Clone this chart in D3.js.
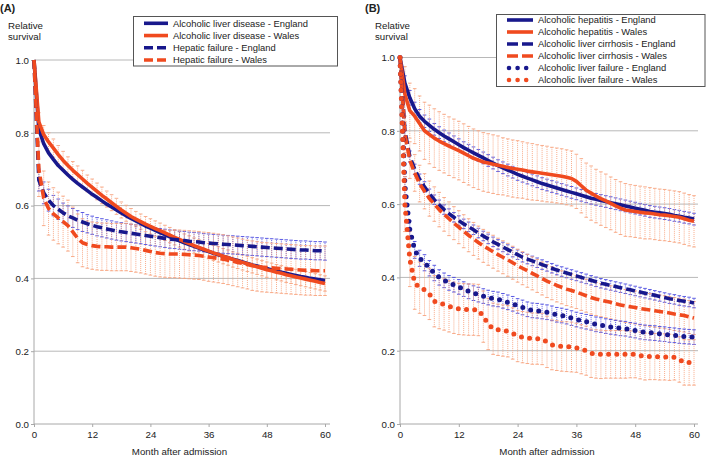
<!DOCTYPE html>
<html><head><meta charset="utf-8">
<script src="https://cdn.jsdelivr.net/npm/d3@7"></script>
<style>
body{margin:0;background:#fff}
svg{display:block}
text{font-family:"Liberation Sans",Arial,Helvetica,sans-serif;fill:#222}
</style>
</head><body>
<svg id="c" width="709" height="458"></svg>
<script>
// ---------- DATA ----------
const months = [0,1,2,3,4,5,6,7,8,9,10,11,12,13,14,15,16,17,18,19,20,21,22,23,24,25,26,27,28,29,30,31,32,33,34,35,36,37,38,39,40,41,42,43,44,45,46,47,48,49,50,51,52,53,54,55,56,57,58,59,60];
const xTickValues = [0,12,24,36,48,60];
const yTickValues = [0,0.2,0.4,0.6,0.8,1.0];
const xAxisTitle = "Month after admission";
const yAxisTitle = ["Relative","survival"];

// Panel A
const panelALabel = "(A)";
const panelANames = ["Alcoholic liver disease - England","Alcoholic liver disease - Wales","Hepatic failure - England","Hepatic failure - Wales"];
const aldEngland = [1.0,0.81,0.77,0.745,0.727,0.71,0.697,0.684,0.672,0.661,0.651,0.641,0.631,0.622,0.613,0.604,0.596,0.588,0.580,0.572,0.565,0.558,0.551,0.544,0.538,0.532,0.526,0.520,0.514,0.509,0.503,0.498,0.493,0.488,0.483,0.478,0.474,0.469,0.465,0.461,0.457,0.453,0.449,0.445,0.441,0.437,0.434,0.430,0.427,0.423,0.420,0.417,0.414,0.411,0.408,0.405,0.403,0.400,0.398,0.396,0.394];
const aldWales = [1.0,0.83,0.795,0.775,0.758,0.74,0.724,0.71,0.697,0.685,0.673,0.661,0.65,0.639,0.628,0.618,0.608,0.598,0.588,0.579,0.570,0.563,0.556,0.549,0.543,0.537,0.531,0.525,0.519,0.513,0.507,0.501,0.496,0.490,0.485,0.480,0.475,0.470,0.466,0.461,0.457,0.452,0.448,0.444,0.440,0.436,0.432,0.428,0.424,0.421,0.417,0.414,0.410,0.407,0.404,0.401,0.398,0.395,0.392,0.389,0.386];
const hfEngland = [1.0,0.67,0.635,0.615,0.60,0.59,0.58,0.572,0.566,0.56,0.555,0.55,0.546,0.542,0.539,0.536,0.533,0.530,0.528,0.526,0.524,0.522,0.520,0.518,0.516,0.514,0.512,0.510,0.508,0.507,0.505,0.504,0.502,0.501,0.500,0.498,0.497,0.496,0.495,0.494,0.493,0.492,0.491,0.490,0.489,0.488,0.487,0.486,0.485,0.484,0.483,0.482,0.481,0.480,0.479,0.478,0.478,0.477,0.476,0.476,0.475];
const hfWales = [1.0,0.70,0.62,0.592,0.577,0.566,0.556,0.545,0.528,0.51,0.498,0.493,0.49,0.488,0.487,0.487,0.486,0.486,0.486,0.486,0.484,0.482,0.480,0.477,0.474,0.471,0.469,0.468,0.467,0.467,0.467,0.466,0.465,0.464,0.463,0.461,0.459,0.457,0.455,0.453,0.450,0.447,0.444,0.441,0.438,0.435,0.433,0.431,0.430,0.429,0.428,0.427,0.426,0.425,0.424,0.423,0.422,0.422,0.421,0.421,0.421];
// half-widths of the 95% intervals drawn as error bars
const aldWalesCI = [0,0.025,0.025,0.025,0.025,0.025,0.025,0.024,0.024,0.024,0.024,0.023,0.023,0.023,0.023,0.022,0.022,0.022,0.022,0.022,0.022,0.021,0.021,0.021,0.021,0.021,0.021,0.021,0.021,0.021,0.021,0.021,0.021,0.021,0.021,0.021,0.021,0.021,0.021,0.021,0.021,0.021,0.021,0.021,0.021,0.021,0.021,0.021,0.021,0.021,0.021,0.021,0.021,0.021,0.021,0.021,0.021,0.021,0.021,0.021,0.021];
const hfEnglandCI = [0,0.03,0.03,0.03,0.028,0.028,0.027,0.027,0.026,0.026,0.026,0.025,0.025,0.025,0.025,0.025,0.025,0.025,0.025,0.025,0.025,0.025,0.025,0.025,0.025,0.025,0.025,0.025,0.025,0.025,0.025,0.025,0.025,0.025,0.025,0.025,0.025,0.025,0.025,0.025,0.025,0.025,0.025,0.025,0.025,0.025,0.025,0.025,0.025,0.025,0.025,0.025,0.025,0.025,0.025,0.025,0.025,0.025,0.025,0.025,0.025];
const hfWalesCI = [0,0.075,0.075,0.073,0.072,0.071,0.07,0.07,0.068,0.067,0.066,0.065,0.065,0.065,0.065,0.065,0.065,0.065,0.065,0.065,0.065,0.065,0.065,0.065,0.065,0.065,0.065,0.065,0.065,0.065,0.066,0.066,0.066,0.066,0.066,0.066,0.067,0.067,0.067,0.067,0.067,0.067,0.067,0.067,0.067,0.068,0.068,0.068,0.068,0.068,0.068,0.068,0.068,0.068,0.068,0.068,0.068,0.068,0.068,0.068,0.068];

// Panel B
const panelBLabel = "(B)";
const panelBNames = ["Alcoholic hepatitis - England","Alcoholic hepatitis - Wales","Alcoholic liver cirrhosis - England","Alcoholic liver cirrhosis - Wales","Alcoholic liver failure - England","Alcoholic liver failure - Wales"];
const ahEngland = [1.0,0.93,0.89,0.86,0.84,0.826,0.815,0.804,0.795,0.786,0.778,0.77,0.762,0.754,0.747,0.74,0.733,0.726,0.719,0.712,0.705,0.699,0.693,0.687,0.681,0.676,0.671,0.666,0.661,0.656,0.652,0.648,0.644,0.640,0.636,0.632,0.628,0.624,0.620,0.616,0.613,0.610,0.607,0.604,0.601,0.598,0.595,0.592,0.589,0.586,0.583,0.580,0.578,0.576,0.574,0.572,0.569,0.567,0.564,0.562,0.559];
const ahWales = [1.0,0.90,0.855,0.84,0.82,0.80,0.79,0.78,0.772,0.765,0.758,0.752,0.746,0.739,0.732,0.725,0.72,0.715,0.712,0.709,0.706,0.703,0.700,0.697,0.695,0.693,0.690,0.688,0.686,0.684,0.682,0.680,0.678,0.676,0.673,0.670,0.662,0.650,0.638,0.630,0.622,0.615,0.609,0.602,0.595,0.589,0.584,0.582,0.580,0.578,0.576,0.575,0.573,0.571,0.570,0.568,0.566,0.564,0.560,0.556,0.553];
const alcEngland = [1.0,0.80,0.73,0.695,0.668,0.647,0.628,0.612,0.598,0.585,0.574,0.564,0.555,0.546,0.538,0.530,0.521,0.513,0.505,0.497,0.490,0.483,0.476,0.469,0.462,0.455,0.450,0.445,0.440,0.435,0.430,0.425,0.420,0.416,0.412,0.408,0.404,0.400,0.396,0.392,0.388,0.384,0.381,0.378,0.375,0.372,0.369,0.366,0.363,0.360,0.357,0.354,0.351,0.348,0.345,0.342,0.340,0.337,0.335,0.333,0.330];
const alcWales = [1.0,0.79,0.72,0.685,0.656,0.635,0.615,0.60,0.585,0.572,0.56,0.548,0.537,0.526,0.515,0.505,0.495,0.486,0.478,0.470,0.462,0.455,0.448,0.440,0.432,0.425,0.418,0.411,0.404,0.397,0.390,0.384,0.378,0.373,0.368,0.364,0.360,0.355,0.350,0.345,0.341,0.338,0.335,0.332,0.328,0.325,0.322,0.320,0.318,0.315,0.313,0.311,0.309,0.307,0.305,0.303,0.300,0.298,0.296,0.292,0.289];
const alfEngland = [1.0,0.65,0.53,0.475,0.452,0.44,0.425,0.412,0.400,0.392,0.385,0.38,0.374,0.368,0.362,0.357,0.353,0.349,0.345,0.342,0.34,0.336,0.332,0.328,0.322,0.318,0.313,0.310,0.309,0.307,0.305,0.302,0.298,0.296,0.293,0.289,0.285,0.282,0.279,0.276,0.272,0.270,0.267,0.265,0.263,0.261,0.260,0.257,0.255,0.252,0.250,0.249,0.248,0.246,0.245,0.243,0.242,0.240,0.239,0.238,0.237];
const alfWales = [1.0,0.60,0.45,0.385,0.372,0.366,0.355,0.335,0.33,0.326,0.321,0.317,0.314,0.313,0.312,0.312,0.311,0.293,0.273,0.26,0.257,0.255,0.253,0.247,0.240,0.237,0.235,0.233,0.233,0.232,0.224,0.216,0.214,0.212,0.211,0.210,0.208,0.204,0.200,0.193,0.191,0.190,0.190,0.190,0.190,0.190,0.190,0.190,0.190,0.187,0.184,0.184,0.184,0.183,0.183,0.182,0.182,0.176,0.168,0.168,0.168];
const ahEnglandCI = [0,0.02,0.02,0.018,0.018,0.017,0.017,0.016,0.016,0.016,0.016,0.016,0.016,0.016,0.016,0.016,0.016,0.016,0.016,0.016,0.016,0.016,0.016,0.016,0.016,0.016,0.016,0.016,0.016,0.016,0.016,0.016,0.016,0.016,0.016,0.016,0.016,0.016,0.016,0.016,0.016,0.016,0.016,0.016,0.016,0.016,0.016,0.016,0.016,0.016,0.016,0.016,0.016,0.016,0.016,0.016,0.016,0.016,0.016,0.016,0.016];
const ahWalesCI = [0,0.075,0.075,0.075,0.075,0.078,0.08,0.08,0.08,0.08,0.08,0.08,0.08,0.08,0.08,0.08,0.08,0.08,0.08,0.08,0.08,0.078,0.078,0.078,0.078,0.077,0.077,0.077,0.076,0.076,0.076,0.075,0.075,0.075,0.075,0.075,0.074,0.074,0.074,0.074,0.073,0.073,0.073,0.072,0.072,0.072,0.072,0.071,0.071,0.071,0.071,0.07,0.07,0.07,0.07,0.07,0.07,0.07,0.07,0.07,0.07];
const alcEnglandCI = [0,0.015,0.015,0.014,0.014,0.014,0.013,0.013,0.013,0.013,0.013,0.013,0.013,0.013,0.013,0.013,0.013,0.013,0.013,0.013,0.013,0.013,0.013,0.013,0.013,0.013,0.013,0.013,0.013,0.013,0.013,0.013,0.013,0.013,0.013,0.013,0.013,0.013,0.013,0.013,0.013,0.013,0.013,0.013,0.013,0.013,0.013,0.013,0.013,0.013,0.013,0.013,0.013,0.013,0.013,0.013,0.013,0.013,0.013,0.013,0.013];
const alcWalesCI = [0,0.05,0.05,0.05,0.05,0.048,0.048,0.047,0.047,0.046,0.046,0.045,0.045,0.045,0.045,0.045,0.045,0.045,0.045,0.045,0.045,0.045,0.045,0.045,0.045,0.045,0.045,0.045,0.045,0.045,0.045,0.045,0.045,0.045,0.045,0.045,0.045,0.045,0.045,0.045,0.045,0.045,0.045,0.045,0.045,0.045,0.045,0.045,0.045,0.045,0.045,0.045,0.045,0.045,0.045,0.045,0.045,0.045,0.045,0.045,0.045];
const alfEnglandCI = [0,0.025,0.024,0.023,0.022,0.022,0.021,0.021,0.021,0.02,0.02,0.02,0.02,0.02,0.02,0.02,0.02,0.02,0.02,0.02,0.02,0.02,0.02,0.02,0.02,0.02,0.02,0.02,0.02,0.02,0.02,0.02,0.02,0.02,0.02,0.02,0.02,0.02,0.02,0.02,0.02,0.02,0.02,0.02,0.02,0.02,0.02,0.02,0.02,0.02,0.02,0.02,0.02,0.02,0.02,0.02,0.02,0.02,0.02,0.02,0.02];
const alfWalesCI = [0,0.075,0.075,0.072,0.07,0.07,0.07,0.07,0.07,0.07,0.07,0.07,0.07,0.07,0.07,0.07,0.07,0.07,0.07,0.07,0.07,0.07,0.07,0.07,0.07,0.07,0.07,0.07,0.07,0.07,0.07,0.068,0.068,0.068,0.068,0.068,0.067,0.067,0.067,0.066,0.066,0.066,0.065,0.065,0.065,0.065,0.065,0.064,0.064,0.064,0.064,0.063,0.063,0.063,0.063,0.063,0.062,0.062,0.062,0.062,0.062];

// ---------- STYLE ----------
const NAVY = "#18188c", RED = "#f04a1f", ORANGE_BAR = "#f7a47f", BLUE_BAR = "#4a4ae0";
const GRID = "#b8b8b8", AXIS = "#a8a8a8";

const svg = d3.select("#c");

function drawPanel(cfg){
  const g = svg.append("g");
  const x = d3.scaleLinear().domain([0,60]).range([cfg.x0, cfg.x1]);
  const y = d3.scaleLinear().domain([0,1]).range([cfg.y0, cfg.y1]);
  const xEnd = cfg.xEnd;

  // gridlines
  g.selectAll(".grid").data(yTickValues.filter(v=>v>0)).join("line")
    .attr("x1", cfg.x0).attr("x2", xEnd)
    .attr("y1", d=>y(d)).attr("y2", d=>y(d))
    .attr("stroke", GRID).attr("stroke-width",1);

  // axes
  const yAxis = d3.axisLeft(y).tickValues(yTickValues).tickFormat(d3.format(".1f")).tickSize(3).tickPadding(2);
  const ya = g.append("g").attr("transform",`translate(${cfg.x0},0)`).call(yAxis);
  const xAxis = d3.axisBottom(x).tickValues(xTickValues).tickFormat(d3.format("d")).tickSize(3).tickPadding(3);
  const xa = g.append("g").attr("transform",`translate(0,${cfg.y0})`).call(xAxis);
  [ya,xa].forEach(a=>{
    a.select(".domain").remove();
    a.selectAll(".tick line").attr("stroke",AXIS);
    a.selectAll(".tick text").style("font-size","9.7px").style("fill","#222")
      .style("font-family",'"Liberation Sans",Arial,sans-serif');
  });
  ya.selectAll(".tick text").attr("dy","0.34em");
  xa.selectAll(".tick text").attr("dy","0.8em");
  g.append("line").attr("x1",cfg.x0).attr("x2",cfg.x0).attr("y1",y(0)).attr("y2",y(1)).attr("stroke",AXIS);
  g.append("line").attr("x1",cfg.x0).attr("x2",xEnd).attr("y1",y(0)).attr("y2",y(0)).attr("stroke",AXIS);

  // axis titles
  g.append("text").attr("x",(cfg.x0+cfg.x1)/2).attr("y",455).attr("text-anchor","middle")
    .style("font-size","9.7px").text(xAxisTitle);
  yAxisTitle.forEach((t,i)=>{
    g.append("text").attr("x",cfg.titleX).attr("y",29+i*11.3).style("font-size","9.7px").text(t);
  });
  g.append("text").attr("x",cfg.labelX).attr("y",12).style("font-size","11px").style("font-weight","bold").text(cfg.label);

  // error bars
  cfg.series.filter(s=>s.ci).forEach(s=>{
    const col = s.colour===RED ? ORANGE_BAR : BLUE_BAR;
    const pts = months.map((m,i)=>({m, v:s.values[i], c:s.ci[i]})).filter(d=>d.c>0);
    const eg = g.append("g");
    eg.selectAll("line.v").data(pts).join("line")
      .attr("x1",d=>x(d.m)).attr("x2",d=>x(d.m))
      .attr("y1",d=>y(d.v-d.c)).attr("y2",d=>y(d.v+d.c))
      .attr("stroke",col).attr("stroke-width",0.9).attr("stroke-dasharray","1,1");
    ["lo","hi"].forEach(k=>{
      eg.selectAll("line."+k).data(pts).join("line")
        .attr("x1",d=>x(d.m)-1.8).attr("x2",d=>x(d.m)+1.8)
        .attr("y1",d=>y(k==="lo"?d.v-d.c:d.v+d.c)).attr("y2",d=>y(k==="lo"?d.v-d.c:d.v+d.c))
        .attr("stroke",col).attr("stroke-width",0.9);
    });
  });

  // lines
  const line = d3.line().x((d,i)=>x(months[i])).y(d=>y(d));
  cfg.series.forEach(s=>{
    const p = g.append("path").datum(s.values).attr("d",line).attr("fill","none")
      .attr("stroke",s.colour).attr("stroke-linejoin","round");
    if(s.dash==="solid") p.attr("stroke-width",3.6);
    if(s.dash==="dash") p.attr("stroke-width",3.6).attr("stroke-dasharray","9,4");
    if(s.dash==="dot") p.attr("stroke-width",5).attr("stroke-dasharray","0,8.2").attr("stroke-linecap","round");
  });

  // legend
  const L = cfg.legend;
  const lg = g.append("g");
  lg.append("rect").attr("x",L.x).attr("y",L.y).attr("width",L.w).attr("height",L.h)
    .attr("fill","#fff").attr("stroke","#555").attr("stroke-width",1);
  cfg.series.forEach((s,i)=>{
    const cy = L.row0 + i*L.step;
    const ln = lg.append("line").attr("x1",L.sx0).attr("x2",L.sx1).attr("y1",cy).attr("y2",cy)
      .attr("stroke",s.colour);
    if(s.dash==="solid") ln.attr("stroke-width",3.6);
    if(s.dash==="dash") ln.attr("stroke-width",3.6).attr("stroke-dasharray",L.dashPat);
    if(s.dash==="dot") ln.attr("x1",L.sx0+2).attr("stroke-width",4.6).attr("stroke-dasharray","0,8.6").attr("stroke-linecap","round");
    lg.append("text").attr("x",L.tx).attr("y",cy).attr("dy","0.35em").style("font-size","9.4px").text(s.name);
  });
}

drawPanel({
  x0:34, x1:325, xEnd:330, y0:424, y1:60, titleX:8, labelX:0, label:panelALabel,
  series:[
    {name:panelANames[0], values:aldEngland, ci:null, colour:NAVY, dash:"solid"},
    {name:panelANames[1], values:aldWales, ci:aldWalesCI, colour:RED, dash:"solid"},
    {name:panelANames[2], values:hfEngland, ci:hfEnglandCI, colour:NAVY, dash:"dash"},
    {name:panelANames[3], values:hfWales, ci:hfWalesCI, colour:RED, dash:"dash"}
  ],
  legend:{x:133.5,y:16.5,w:204,h:49.5,row0:23.3,step:12.25,sx0:144,sx1:168,tx:173,dashPat:"9,4"}
});

drawPanel({
  x0:400, x1:694, xEnd:698, y0:424, y1:57.5, titleX:375, labelX:365, label:panelBLabel,
  series:[
    {name:panelBNames[0], values:ahEngland, ci:ahEnglandCI, colour:NAVY, dash:"solid"},
    {name:panelBNames[1], values:ahWales, ci:ahWalesCI, colour:RED, dash:"solid"},
    {name:panelBNames[2], values:alcEngland, ci:alcEnglandCI, colour:NAVY, dash:"dash"},
    {name:panelBNames[3], values:alcWales, ci:alcWalesCI, colour:RED, dash:"dash"},
    {name:panelBNames[4], values:alfEngland, ci:alfEnglandCI, colour:NAVY, dash:"dot"},
    {name:panelBNames[5], values:alfWales, ci:alfWalesCI, colour:RED, dash:"dot"}
  ],
  legend:{x:496.5,y:14.5,w:208.5,h:72,row0:20,step:12,sx0:507,sx1:533,tx:538,dashPat:"11,4"}
});
</script>
</body></html>
